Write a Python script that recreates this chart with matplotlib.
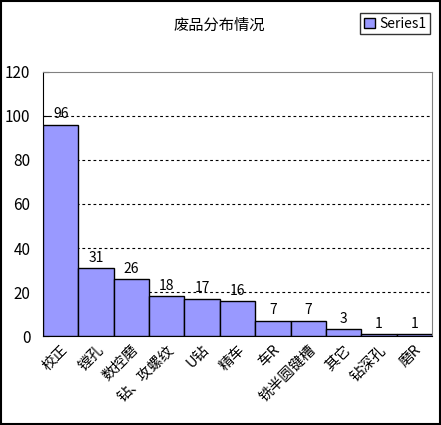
import matplotlib
matplotlib.use("Agg")
import matplotlib.pyplot as plt

plt.rcParams['font.family'] = ['Noto Sans CJK SC', 'DejaVu Sans']

categories = ["校正", "镗孔", "数控磨", "钻、攻螺纹", "U钻", "精车", "车R", "铣半圆键槽", "其它", "钻深孔", "磨R"]
values = [96, 31, 26, 18, 17, 16, 7, 7, 3, 1, 1]
yticks = [0, 20, 40, 60, 80, 100, 120]

fig = plt.figure(figsize=(4.41, 4.25), dpi=100)
fig.patch.set_facecolor("white")
ax = fig.add_axes([0.0975, 0.2094, 0.8821, 0.6212])

x = list(range(len(categories)))
bars = ax.bar(x, values, width=1.0, color="#9999FF", edgecolor="black", linewidth=1.0, label="Series1", zorder=3)
for xi, v in zip(x, values):
    ax.text(xi, v + 1.5, str(v), ha="center", va="bottom", fontsize=10, zorder=4)

ax.set_xlim(-0.5, len(categories) - 0.5)
ax.set_ylim(0, 120)
ax.set_yticks(yticks)
ax.set_yticklabels([str(t) for t in yticks], fontsize=11)
for t in yticks[1:-1]:
    ax.axhline(t, color="black", linestyle=(0, (2.5, 2.5)), linewidth=0.8, zorder=1)

ax.set_xticks(x)
ax.set_xticklabels(categories, rotation=45, ha="right", rotation_mode="anchor", fontsize=10.5)
ax.tick_params(axis="x", length=0, pad=5)
ax.tick_params(axis="y", length=4, direction="in", pad=9)

for side in ["top", "right"]:
    ax.spines[side].set_color("#808080")
ax.spines["left"].set_color("black")
ax.spines["bottom"].set_color("black")

fig.text(0.497, 0.94, "废品分布情况", ha="center", va="center", fontsize=11)

leg = fig.legend(handles=[bars], labels=["Series1"], loc="upper right", bbox_to_anchor=(0.99, 0.985),
                 frameon=True, fancybox=False, edgecolor="black", fontsize=10,
                 handlelength=0.8, handleheight=0.8, borderpad=0.25, handletextpad=0.3)
leg.get_frame().set_linewidth(1.0)

fig.add_artist(plt.Rectangle((0.002, 0.002), 0.996, 0.996, transform=fig.transFigure,
                             fill=False, edgecolor="black", linewidth=1.5))

fig.savefig("out.png", dpi=100)
